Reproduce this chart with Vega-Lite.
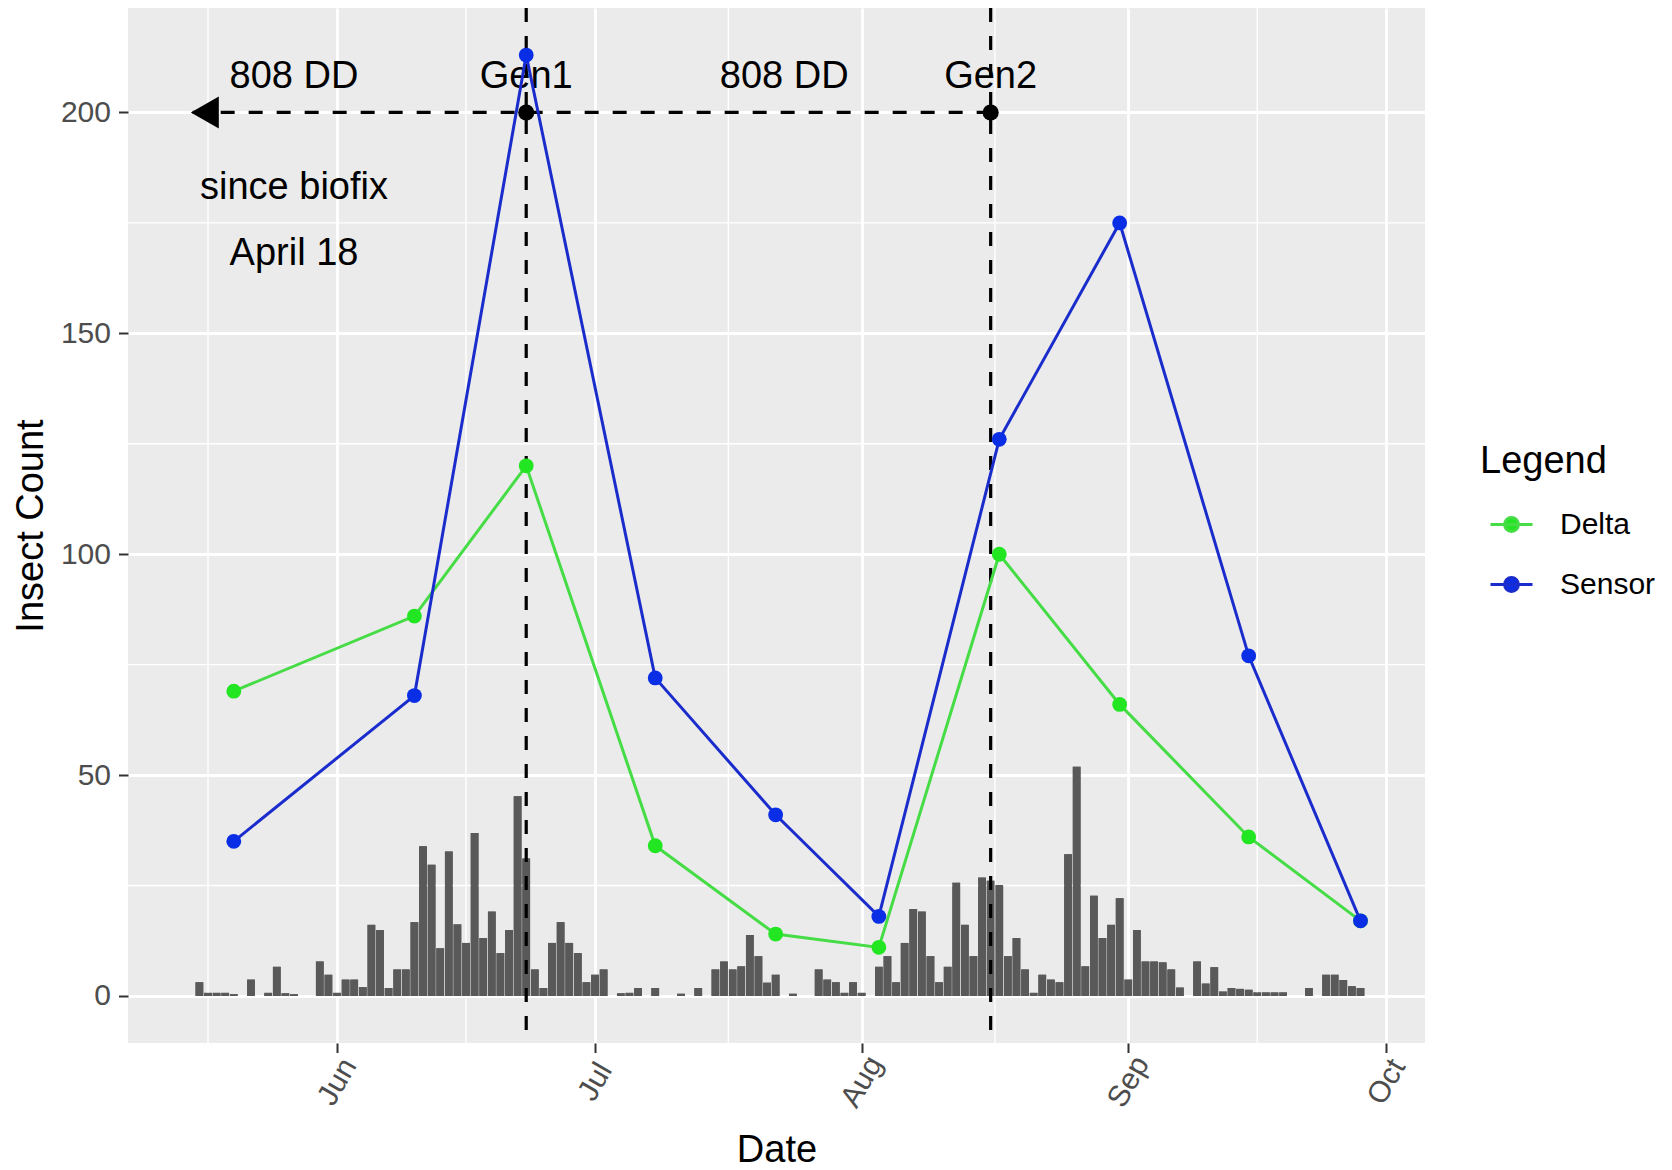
{
  "$schema": "https://vega.github.io/schema/vega-lite/v6.json",
  "width": 1297,
  "height": 1035,
  "autosize": {"type": "none"},
  "padding": {"left": 128, "top": 8, "right": 247, "bottom": 127},
  "background": "#FFFFFF",
  "config": {
    "font": "Liberation Sans",
    "view": {"fill": "#EBEBEB", "stroke": null},
    "axis": {
      "domain": false,
      "grid": true,
      "gridColor": "#FFFFFF",
      "gridWidth": 2.8,
      "tickColor": "#333333",
      "tickWidth": 2,
      "tickSize": 9.5,
      "labelColor": "#4D4D4D",
      "labelFontSize": 30,
      "labelFont": "Liberation Sans",
      "titleFont": "Liberation Sans",
      "titleFontSize": 38,
      "titleFontWeight": "normal",
      "titleColor": "#000000"
    }
  },
  "datasets": {
    "minorY": [{"v": 25}, {"v": 75}, {"v": 125}, {"v": 175}],
    "minorX": [
      {"date": "2019-05-17T00:00:00Z"},
      {"date": "2019-06-16T00:00:00Z"},
      {"date": "2019-07-16T12:00:00Z"},
      {"date": "2019-08-16T12:00:00Z"},
      {"date": "2019-09-16T00:00:00Z"}
    ],
    "daily": [
      {"date": "2019-05-16", "count": 3.1},
      {"date": "2019-05-17", "count": 0.7},
      {"date": "2019-05-18", "count": 0.7},
      {"date": "2019-05-19", "count": 0.7},
      {"date": "2019-05-20", "count": 0.4},
      {"date": "2019-05-22", "count": 3.7},
      {"date": "2019-05-24", "count": 0.7},
      {"date": "2019-05-25", "count": 6.6},
      {"date": "2019-05-26", "count": 0.6},
      {"date": "2019-05-27", "count": 0.4},
      {"date": "2019-05-30", "count": 7.8},
      {"date": "2019-05-31", "count": 4.8},
      {"date": "2019-06-01", "count": 0.7},
      {"date": "2019-06-02", "count": 3.7},
      {"date": "2019-06-03", "count": 3.7},
      {"date": "2019-06-04", "count": 2.0},
      {"date": "2019-06-05", "count": 16.1},
      {"date": "2019-06-06", "count": 14.9},
      {"date": "2019-06-07", "count": 1.8},
      {"date": "2019-06-08", "count": 6.0},
      {"date": "2019-06-09", "count": 6.0},
      {"date": "2019-06-10", "count": 16.7},
      {"date": "2019-06-11", "count": 33.9},
      {"date": "2019-06-12", "count": 29.7},
      {"date": "2019-06-13", "count": 10.8},
      {"date": "2019-06-14", "count": 32.7},
      {"date": "2019-06-15", "count": 16.2},
      {"date": "2019-06-16", "count": 12.0},
      {"date": "2019-06-17", "count": 36.9},
      {"date": "2019-06-18", "count": 13.1},
      {"date": "2019-06-19", "count": 19.1},
      {"date": "2019-06-20", "count": 9.7},
      {"date": "2019-06-21", "count": 14.9},
      {"date": "2019-06-22", "count": 45.2},
      {"date": "2019-06-23", "count": 31.1},
      {"date": "2019-06-24", "count": 6.0},
      {"date": "2019-06-25", "count": 1.8},
      {"date": "2019-06-26", "count": 12.0},
      {"date": "2019-06-27", "count": 16.7},
      {"date": "2019-06-28", "count": 12.0},
      {"date": "2019-06-29", "count": 9.7},
      {"date": "2019-06-30", "count": 3.1},
      {"date": "2019-07-01", "count": 4.8},
      {"date": "2019-07-02", "count": 6.0},
      {"date": "2019-07-04", "count": 0.6},
      {"date": "2019-07-05", "count": 0.7},
      {"date": "2019-07-06", "count": 1.8},
      {"date": "2019-07-08", "count": 1.8},
      {"date": "2019-07-11", "count": 0.5},
      {"date": "2019-07-13", "count": 1.8},
      {"date": "2019-07-15", "count": 6.0},
      {"date": "2019-07-16", "count": 7.8},
      {"date": "2019-07-17", "count": 6.0},
      {"date": "2019-07-18", "count": 6.7},
      {"date": "2019-07-19", "count": 13.8},
      {"date": "2019-07-20", "count": 9.0},
      {"date": "2019-07-21", "count": 3.0},
      {"date": "2019-07-22", "count": 4.8},
      {"date": "2019-07-24", "count": 0.5},
      {"date": "2019-07-27", "count": 6.0},
      {"date": "2019-07-28", "count": 3.7},
      {"date": "2019-07-29", "count": 3.1},
      {"date": "2019-07-30", "count": 0.7},
      {"date": "2019-07-31", "count": 3.1},
      {"date": "2019-08-01", "count": 0.7},
      {"date": "2019-08-03", "count": 6.6},
      {"date": "2019-08-04", "count": 9.0},
      {"date": "2019-08-05", "count": 3.1},
      {"date": "2019-08-06", "count": 12.0},
      {"date": "2019-08-07", "count": 19.7},
      {"date": "2019-08-08", "count": 19.1},
      {"date": "2019-08-09", "count": 9.0},
      {"date": "2019-08-10", "count": 3.1},
      {"date": "2019-08-11", "count": 6.6},
      {"date": "2019-08-12", "count": 25.6},
      {"date": "2019-08-13", "count": 16.1},
      {"date": "2019-08-14", "count": 9.0},
      {"date": "2019-08-15", "count": 26.8},
      {"date": "2019-08-16", "count": 26.1},
      {"date": "2019-08-17", "count": 25.1},
      {"date": "2019-08-18", "count": 9.0},
      {"date": "2019-08-19", "count": 13.1},
      {"date": "2019-08-20", "count": 6.0},
      {"date": "2019-08-21", "count": 0.7},
      {"date": "2019-08-22", "count": 4.8},
      {"date": "2019-08-23", "count": 3.7},
      {"date": "2019-08-24", "count": 3.1},
      {"date": "2019-08-25", "count": 32.1},
      {"date": "2019-08-26", "count": 51.9},
      {"date": "2019-08-27", "count": 6.7},
      {"date": "2019-08-28", "count": 22.7},
      {"date": "2019-08-29", "count": 13.1},
      {"date": "2019-08-30", "count": 16.1},
      {"date": "2019-08-31", "count": 22.1},
      {"date": "2019-09-01", "count": 3.7},
      {"date": "2019-09-02", "count": 14.9},
      {"date": "2019-09-03", "count": 7.8},
      {"date": "2019-09-04", "count": 7.8},
      {"date": "2019-09-05", "count": 7.6},
      {"date": "2019-09-06", "count": 6.0},
      {"date": "2019-09-07", "count": 1.9},
      {"date": "2019-09-09", "count": 7.8},
      {"date": "2019-09-10", "count": 2.8},
      {"date": "2019-09-11", "count": 6.5},
      {"date": "2019-09-12", "count": 1.0},
      {"date": "2019-09-13", "count": 1.8},
      {"date": "2019-09-14", "count": 1.6},
      {"date": "2019-09-15", "count": 1.4},
      {"date": "2019-09-16", "count": 0.8},
      {"date": "2019-09-17", "count": 0.8},
      {"date": "2019-09-18", "count": 0.8},
      {"date": "2019-09-19", "count": 0.8},
      {"date": "2019-09-22", "count": 1.8},
      {"date": "2019-09-24", "count": 4.8},
      {"date": "2019-09-25", "count": 4.8},
      {"date": "2019-09-26", "count": 3.6},
      {"date": "2019-09-27", "count": 2.2},
      {"date": "2019-09-28", "count": 1.8}
    ],
    "traps": [
      {"date": "2019-05-20", "Legend": "Delta", "count": 69},
      {"date": "2019-06-10", "Legend": "Delta", "count": 86},
      {"date": "2019-06-23", "Legend": "Delta", "count": 120},
      {"date": "2019-07-08", "Legend": "Delta", "count": 34},
      {"date": "2019-07-22", "Legend": "Delta", "count": 14},
      {"date": "2019-08-03", "Legend": "Delta", "count": 11},
      {"date": "2019-08-17", "Legend": "Delta", "count": 100},
      {"date": "2019-08-31", "Legend": "Delta", "count": 66},
      {"date": "2019-09-15", "Legend": "Delta", "count": 36},
      {"date": "2019-09-28", "Legend": "Delta", "count": 17},
      {"date": "2019-05-20", "Legend": "Sensor", "count": 35},
      {"date": "2019-06-10", "Legend": "Sensor", "count": 68},
      {"date": "2019-06-23", "Legend": "Sensor", "count": 213},
      {"date": "2019-07-08", "Legend": "Sensor", "count": 72},
      {"date": "2019-07-22", "Legend": "Sensor", "count": 41},
      {"date": "2019-08-03", "Legend": "Sensor", "count": 18},
      {"date": "2019-08-17", "Legend": "Sensor", "count": 126},
      {"date": "2019-08-31", "Legend": "Sensor", "count": 175},
      {"date": "2019-09-15", "Legend": "Sensor", "count": 77},
      {"date": "2019-09-28", "Legend": "Sensor", "count": 17}
    ],
    "gens": [
      {"date": "2019-06-23", "label": "Gen1", "y": 200},
      {"date": "2019-08-16", "label": "Gen2", "y": 200}
    ],
    "arrow": [
      {"start": "2019-08-16", "end": "2019-05-15", "y": 200}
    ],
    "notes": [
      {"date": "2019-05-27", "y": 208, "text": "808 DD"},
      {"date": "2019-06-23", "y": 208, "text": "Gen1"},
      {"date": "2019-07-23", "y": 208, "text": "808 DD"},
      {"date": "2019-08-16", "y": 208, "text": "Gen2"},
      {"date": "2019-05-27", "y": 183, "text": "since biofix"},
      {"date": "2019-05-27", "y": 168, "text": "April 18"}
    ]
  },
  "layer": [
    {
      "data": {"name": "daily"},
      "mark": {"type": "bar", "color": "#595959", "width": 7.74},
      "encoding": {
        "x": {
          "field": "date", "type": "temporal", "title": "Date",
          "scale": {"type": "utc", "padding": 0, "domain": [{"year": 2019, "month": 5, "date": 7, "hours": 16, "minutes": 48, "utc": true}, {"year": 2019, "month": 10, "date": 5, "hours": 12, "utc": true}]},
          "axis": {
            "values": [
              {"year": 2019, "month": 6, "date": 1, "utc": true},
              {"year": 2019, "month": 7, "date": 1, "utc": true},
              {"year": 2019, "month": 8, "date": 1, "utc": true},
              {"year": 2019, "month": 9, "date": 1, "utc": true},
              {"year": 2019, "month": 10, "date": 1, "utc": true}
            ],
            "format": "%b",
            "labelAngle": -60,
            "labelAlign": "center",
            "labelBaseline": "middle",
            "labelPadding": 29,
            "titlePadding": 19
          }
        },
        "y": {
          "field": "count", "type": "quantitative", "title": "Insect Count",
          "scale": {"domain": [-10.65, 223.65], "nice": false, "zero": false},
          "axis": {"values": [0, 50, 100, 150, 200], "labelPadding": 8, "titlePadding": 10}
        }
      }
    },
    {
      "data": {"name": "minorY"},
      "mark": {"type": "rule", "color": "#FFFFFF", "strokeWidth": 1.4},
      "encoding": {"y": {"field": "v", "type": "quantitative", "title": "Insect Count"}}
    },
    {
      "data": {"name": "minorX"},
      "mark": {"type": "rule", "color": "#FFFFFF", "strokeWidth": 1.4},
      "encoding": {"x": {"field": "date", "type": "temporal", "title": "Date", "scale": {"type": "utc"}}}
    },
    {
      "data": {"name": "daily"},
      "mark": {"type": "bar", "color": "#595959", "width": 7.74},
      "encoding": {
        "x": {"field": "date", "type": "temporal", "title": "Date", "scale": {"type": "utc"}},
        "y": {"field": "count", "type": "quantitative", "title": "Insect Count"}
      }
    },
    {
      "data": {"name": "notes"},
      "mark": {"type": "text", "font": "Liberation Sans", "fontSize": 38, "color": "#000000", "align": "center", "baseline": "middle"},
      "encoding": {
        "x": {"field": "date", "type": "temporal", "title": "Date", "scale": {"type": "utc"}},
        "y": {"field": "y", "type": "quantitative", "title": "Insect Count"},
        "text": {"field": "text"}
      }
    },
    {
      "data": {"name": "gens"},
      "mark": {"type": "rule", "color": "#000000", "strokeWidth": 3.2, "strokeDash": [14, 14]},
      "encoding": {"x": {"field": "date", "type": "temporal", "title": "Date", "scale": {"type": "utc"}}}
    },
    {
      "data": {"name": "arrow"},
      "mark": {"type": "rule", "color": "#000000", "strokeWidth": 3.2, "strokeDash": [14, 14]},
      "encoding": {
        "x": {"field": "start", "type": "temporal", "title": "Date", "scale": {"type": "utc"}},
        "x2": {"field": "end"},
        "y": {"field": "y", "type": "quantitative", "title": "Insect Count"}
      }
    },
    {
      "data": {"name": "traps"},
      "mark": {"type": "line", "strokeWidth": 3},
      "encoding": {
        "x": {"field": "date", "type": "temporal", "title": "Date", "scale": {"type": "utc"}},
        "y": {"field": "count", "type": "quantitative", "title": "Insect Count"},
        "stroke": {
          "field": "Legend", "type": "nominal",
          "scale": {"domain": ["Delta", "Sensor"], "range": ["#45DC45", "#1A2CCC"]},
          "legend": {
            "title": "Legend", "orient": "none", "legendX": 1352, "legendY": 435,
            "symbolType": "M-1.5,0L1.5,0M-0.5,0A0.5,0.5 0 1,1 0.5,0A0.5,0.5 0 1,1 -0.5,0Z",
            "symbolSize": 784, "symbolStrokeWidth": 2.8, "symbolOffset": 16,
            "titleFont": "Liberation Sans", "titleFontSize": 38, "titleFontWeight": "normal", "titleColor": "#000000",
            "labelFont": "Liberation Sans", "labelFontSize": 30, "labelColor": "#000000",
            "rowPadding": 29, "titlePadding": 28, "labelOffset": 33
          }
        }
      }
    },
    {
      "data": {"name": "traps"},
      "mark": {"type": "circle", "size": 220, "opacity": 1},
      "encoding": {
        "x": {"field": "date", "type": "temporal", "title": "Date", "scale": {"type": "utc"}},
        "y": {"field": "count", "type": "quantitative", "title": "Insect Count"},
        "fill": {
          "field": "Legend", "type": "nominal",
          "scale": {"domain": ["Delta", "Sensor"], "range": ["#22E622", "#0A2EE6"]},
          "legend": {
            "title": "Legend", "orient": "none", "legendX": 1352, "legendY": 435,
            "symbolType": "M-1.5,0L1.5,0M-0.5,0A0.5,0.5 0 1,1 0.5,0A0.5,0.5 0 1,1 -0.5,0Z",
            "symbolSize": 784, "symbolStrokeWidth": 2.8, "symbolOffset": 16,
            "titleFont": "Liberation Sans", "titleFontSize": 38, "titleFontWeight": "normal", "titleColor": "#000000",
            "labelFont": "Liberation Sans", "labelFontSize": 30, "labelColor": "#000000",
            "rowPadding": 29, "titlePadding": 28, "labelOffset": 33
          }
        }
      }
    },
    {
      "data": {"name": "gens"},
      "mark": {"type": "circle", "size": 260, "color": "#000000", "opacity": 1},
      "encoding": {
        "x": {"field": "date", "type": "temporal", "title": "Date", "scale": {"type": "utc"}},
        "y": {"field": "y", "type": "quantitative", "title": "Insect Count"}
      }
    },
    {
      "data": {"name": "arrow"},
      "mark": {"type": "point", "shape": "M0,0L2,-1.14L2,1.14Z", "size": 784, "filled": true, "color": "#000000", "opacity": 1, "strokeWidth": 0},
      "encoding": {
        "x": {"field": "end", "type": "temporal", "title": "Date", "scale": {"type": "utc"}},
        "y": {"field": "y", "type": "quantitative", "title": "Insect Count"}
      }
    }
  ]
}
